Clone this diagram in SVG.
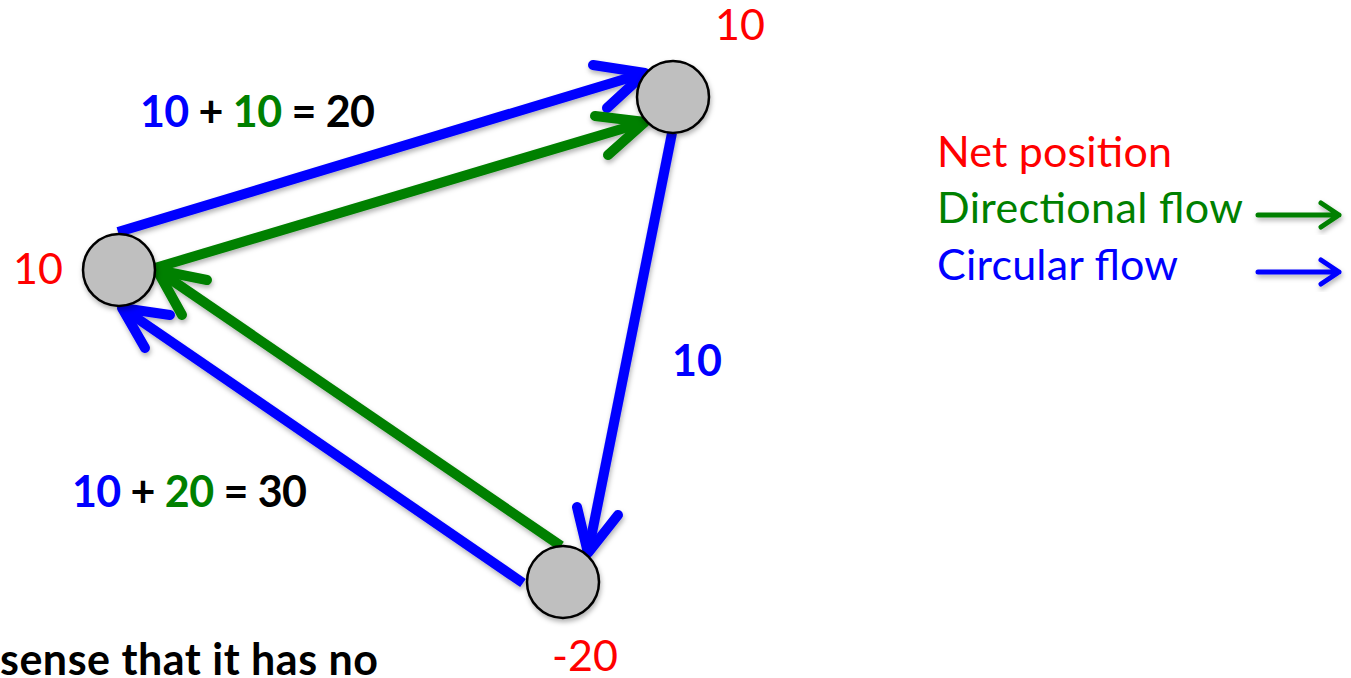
<svg xmlns="http://www.w3.org/2000/svg" width="1351" height="678" viewBox="0 0 1351 678">
<style>
  .t { font-family: Lato, "Liberation Sans", sans-serif; font-size: 43px; }
  .b { font-weight: bold; }
  .red { fill: #FF0000; }
  .grn { fill: #008000; }
  .blu { fill: #0000FF; }
  .blk { fill: #000000; }
  .ln { fill: none; stroke-width: 10; stroke-linecap: butt; }
  .hd { fill: none; stroke-width: 10; stroke-linecap: round; stroke-linejoin: round; }
  .lg { fill: none; stroke-width: 5; stroke-linecap: round; stroke-linejoin: round; }
  .sb { stroke: #0000FF; }
  .sg { stroke: #008000; }
  .node { fill: #BFBFBF; stroke: #000; stroke-width: 2.5; }
</style>
<defs>
  <filter id="sh" x="-30%" y="-30%" width="160%" height="160%">
    <feDropShadow dx="1" dy="3" stdDeviation="2.5" flood-color="#000" flood-opacity="0.3"/>
  </filter>
</defs>
<rect width="1351" height="678" fill="#fff"/>
<g id="connectors" filter="url(#sh)">
  <g id="e-left-top-blue">
    <path class="ln sb" d="M118,232 L645,73"/>
    <path class="hd sb" d="M593,65 L645,73 L607,108"/>
  </g>
  <g id="e-left-top-green">
    <path class="ln sg" d="M155,268 L645,122"/>
    <path class="hd sg" d="M595,116 L645,122 L608,155"/>
  </g>
  <g id="e-bottom-left-green">
    <path class="ln sg" d="M561,546 L157,270"/>
    <path class="hd sg" d="M207,280 L157,270 L182,315"/>
  </g>
  <g id="e-bottom-left-blue">
    <path class="ln sb" d="M523,583 L122,308"/>
    <path class="hd sb" d="M170,315 L122,308 L145,348"/>
  </g>
  <g id="e-top-bottom-blue">
    <path class="ln sb" d="M672,133 L588,553"/>
    <path class="hd sb" d="M577,507 L588,553 L618,515"/>
  </g>
</g>
<g id="node-top"><circle class="node" cx="673" cy="97" r="36" filter="url(#sh)"/></g>
<g id="node-left"><circle class="node" cx="119" cy="270" r="36" filter="url(#sh)"/></g>
<g id="node-bottom"><circle class="node" cx="563" cy="582" r="36" filter="url(#sh)"/></g>
<g id="labels">
  <text class="t red" x="740" y="40" text-anchor="middle">10</text>
  <text class="t red" x="38" y="284" text-anchor="middle">10</text>
  <text class="t red" x="585" y="671" text-anchor="middle">-20</text>
  <text class="t b" x="140" y="127" textLength="235"><tspan class="blu">10</tspan><tspan class="blk"> + </tspan><tspan class="grn">10</tspan><tspan class="blk"> = 20</tspan></text>
  <text class="t b" x="72" y="507" textLength="235"><tspan class="blu">10</tspan><tspan class="blk"> + </tspan><tspan class="grn">20</tspan><tspan class="blk"> = 30</tspan></text>
  <text class="t b blu" x="697" y="376" text-anchor="middle">10</text>
  <text class="t b blk" x="0" y="675" textLength="378">sense that it has no</text>
</g>
<g id="legend">
  <text class="t red" x="937" y="167" textLength="235">Net position</text>
  <text class="t grn" x="937" y="223" textLength="306">Directional flow</text>
  <text class="t blu" x="937" y="280" textLength="241">Circular flow</text>
  <g id="legend-green-arrow" filter="url(#sh)">
    <path class="lg sg" d="M1258,215 L1339,215 M1321,203 L1339,215 L1321,227"/>
  </g>
  <g id="legend-blue-arrow" filter="url(#sh)">
    <path class="lg sb" d="M1258,272 L1339,272 M1321,260 L1339,272 L1321,284"/>
  </g>
</g>
</svg>
